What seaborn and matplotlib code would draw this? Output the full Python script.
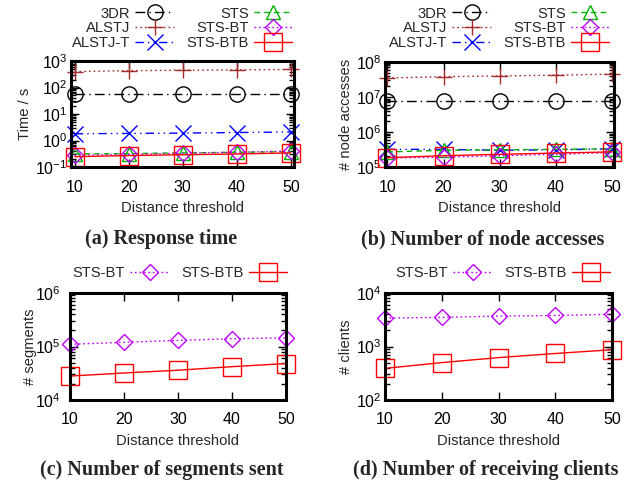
import numpy as np
import matplotlib
matplotlib.use("Agg")
import matplotlib.pyplot as plt
import seaborn as sns
from matplotlib.ticker import LogLocator, NullFormatter, LogFormatterMathtext, FixedLocator

# ---------------- data ----------------
thresholds = [10, 20, 30, 40, 50]

time_3dr = [55, 55, 55, 55, 55]
time_alstj = [400, 430, 450, 460, 480]
time_alstjt = [1.8, 1.85, 1.9, 2.0, 2.1]
time_sts = [0.31, 0.32, 0.34, 0.36, 0.38]
time_stsbt = [0.28, 0.30, 0.33, 0.36, 0.40]
time_stsbtb = [0.245, 0.27, 0.29, 0.31, 0.34]

nodes_3dr = [7.8e6, 7.8e6, 7.8e6, 7.8e6, 7.8e6]
nodes_alstj = [3.5e7, 3.8e7, 4.0e7, 4.2e7, 4.5e7]
nodes_alstjt = [3.2e5, 3.2e5, 3.0e5, 3.1e5, 3.3e5]
nodes_sts = [2.7e5, 3.0e5, 3.1e5, 3.2e5, 3.3e5]
nodes_stsbt = [1.8e5, 1.9e5, 2.1e5, 2.3e5, 2.6e5]
nodes_stsbtb = [1.85e5, 2.1e5, 2.3e5, 2.5e5, 2.7e5]

segments_stsbt = [1.1e5, 1.2e5, 1.3e5, 1.4e5, 1.45e5]
segments_stsbtb = [2.8e4, 3.2e4, 3.6e4, 4.2e4, 4.8e4]

clients_stsbt = [3400, 3500, 3700, 3800, 4000]
clients_stsbtb = [390, 500, 620, 740, 870]

labels_all = ["3DR", "ALSTJ", "ALSTJ-T", "STS", "STS-BT", "STS-BTB"]
xlabel_text = "Distance threshold"
ylabels = ["Time / s", "# node accesses", "# segments", "# clients"]
captions = ["(a) Response time", "(b) Number of node accesses",
            "(c) Number of segments sent", "(d) Number of receiving clients"]

# ---------------- style ----------------
sns.set_theme(style="ticks")
plt.rcParams["font.family"] = ["Liberation Sans", "DejaVu Sans"]
plt.rcParams["mathtext.fontset"] = "custom"
plt.rcParams["mathtext.rm"] = "Liberation Sans"
plt.rcParams["mathtext.default"] = "regular"

FS = 10.6
TICK_FS = 11.5

styles = {
    "3DR": dict(color="black", marker="o", ms=11, ls=(0, (7, 3, 1, 3))),
    "ALSTJ": dict(color="#a52a2a", marker="+", ms=12, ls=(0, (1.2, 2.2))),
    "ALSTJ-T": dict(color="#0000ff", marker="x", ms=11, ls=(0, (6, 3, 1, 3, 1, 3))),
    "STS": dict(color="#00b000", marker="^", ms=10, ls=(0, (4, 3))),
    "STS-BT": dict(color="#c000ff", marker="D", ms=8, ls=(0, (1.2, 2))),
    "STS-BTB": dict(color="#ff0000", marker="s", ms=12.5, ls="-"),
}

fig = plt.figure(figsize=(6.44, 4.83), dpi=100)
W, H = 644.0, 483.0


def add_ax(l, r, t, b):
    return fig.add_axes([l / W, 1 - b / H, (r - l) / W, (b - t) / H])


def draw(ax, names, datas):
    for name, vals in zip(names, datas):
        st = styles[name]
        sns.lineplot(x=thresholds, y=vals, ax=ax, color=st["color"], marker=st["marker"],
                     markersize=st["ms"], markerfacecolor="none",
                     markeredgecolor=st["color"], markeredgewidth=1.0,
                     linestyle=st["ls"], linewidth=1.0, errorbar=None,
                     label=name, legend=False, clip_on=False)


def style_ax(ax, ylim, xlim, ylabel, ypad=2.5, ylabelpad=2):
    ax.set_yscale("log")
    ax.set_ylim(*ylim)
    ax.set_xlim(*xlim)
    ax.xaxis.set_major_locator(FixedLocator(thresholds))
    ax.yaxis.set_major_locator(LogLocator(base=10, numticks=20))
    ax.yaxis.set_minor_locator(LogLocator(base=10, subs=np.arange(2, 10), numticks=20))
    ax.yaxis.set_major_formatter(LogFormatterMathtext())
    ax.yaxis.set_minor_formatter(NullFormatter())
    ax.tick_params(which="both", direction="in", top=True, right=True, colors="black",
                   labelsize=TICK_FS, width=1.0)
    ax.tick_params(axis="x", pad=9)
    ax.tick_params(axis="y", pad=ypad)
    ax.tick_params(which="major", length=6)
    ax.tick_params(which="minor", length=3.5)
    for sp in ax.spines.values():
        sp.set_linewidth(2.2)
        sp.set_color("black")
    ax.set_xlabel(xlabel_text, fontsize=FS, labelpad=5)
    ax.set_ylabel(ylabel, fontsize=FS, labelpad=ylabelpad)
    ax.grid(False)


def make_legend(ax, names, right_px, top_px, ncol):
    lines = ax.get_lines()
    handles = lines[:len(names)]
    leg = fig.legend(handles, names, ncol=ncol, loc="upper right",
                     bbox_to_anchor=(right_px / W, 1 - top_px / H),
                     bbox_transform=fig.transFigure, frameon=False, markerfirst=False,
                     handlelength=2.6, handletextpad=0.35, columnspacing=0.85,
                     labelspacing=0.05, borderpad=0, borderaxespad=0, fontsize=FS,
                     numpoints=1)
    for col in leg._legend_handle_box.get_children():
        col.align = "right"
    return leg


ax_a = add_ax(71, 294, 61, 167)
draw(ax_a, labels_all, [time_3dr, time_alstj, time_alstjt, time_sts, time_stsbt, time_stsbtb])
style_ax(ax_a, (0.1, 1000), (9.3, 50.6), ylabels[0])
make_legend(ax_a, labels_all, 292, 6.5, 2)

ax_b = add_ax(385, 614, 62, 167)
draw(ax_b, labels_all, [nodes_3dr, nodes_alstj, nodes_alstjt, nodes_sts, nodes_stsbt, nodes_stsbtb])
style_ax(ax_b, (1e5, 1e8), (9.6, 50.3), ylabels[1])
make_legend(ax_b, labels_all, 609, 6.5, 2)

ax_c = add_ax(70, 286, 293, 400)
draw(ax_c, ["STS-BT", "STS-BTB"], [segments_stsbt, segments_stsbtb])
style_ax(ax_c, (1e4, 1e6), (10, 50), ylabels[2], ypad=6.5, ylabelpad=-1.5)
make_legend(ax_c, ["STS-BT", "STS-BTB"], 287, 266, 2)

ax_d = add_ax(385, 612, 293, 400)
draw(ax_d, ["STS-BT", "STS-BTB"], [clients_stsbt, clients_stsbtb])
style_ax(ax_d, (1e2, 1e4), (10, 50), ylabels[3])
make_legend(ax_d, ["STS-BT", "STS-BTB"], 610, 266, 2)

cap_font = dict(family=["Liberation Serif", "DejaVu Serif"], weight="bold", fontsize=14.5,
                ha="center", va="center")
fig.text(161 / W, 1 - 239 / H, captions[0], **cap_font)
fig.text(483 / W, 1 - 239 / H, captions[1], **cap_font)
fig.text(162 / W, 1 - 470 / H, captions[2], **cap_font)
fig.text(486 / W, 1 - 470 / H, captions[3], **cap_font)

fig.savefig("out.png", dpi=100)
